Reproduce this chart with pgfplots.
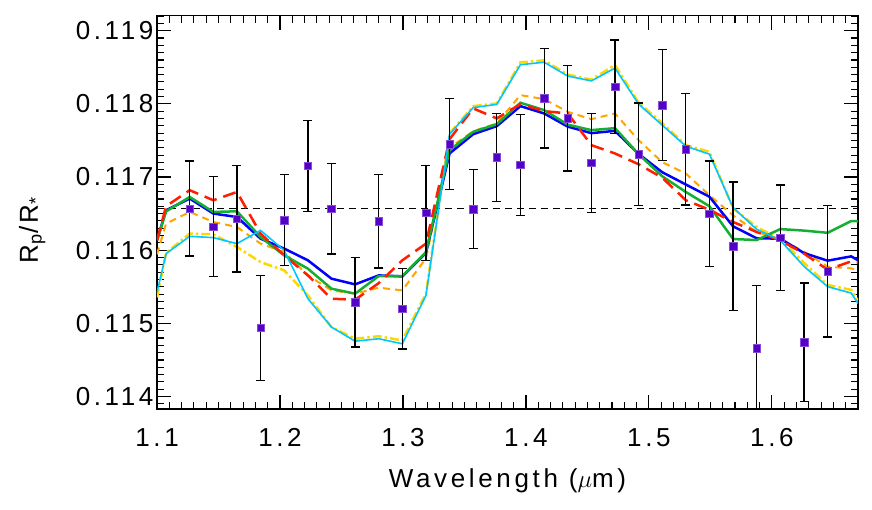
\documentclass[border=0pt]{standalone}
\usepackage{fontspec}
\setmainfont{Liberation Sans}[LetterSpace=14]
\usepackage{pgfplots}
\usepackage{pgfplotstable}
\pgfplotsset{compat=1.18}
\definecolor{mblue}{RGB}{0,0,255}
\definecolor{mgreen}{RGB}{20,175,50}
\definecolor{mred}{RGB}{255,30,0}
\definecolor{morange}{RGB}{255,165,0}
\definecolor{myellow}{RGB}{255,215,0}
\definecolor{mcyan}{RGB}{0,200,255}
\definecolor{mpurple}{RGB}{85,0,200}
\newcommand\lbfont{\fontsize{26bp}{30bp}\selectfont}
\pgfplotstableread{
x blue green red orange yellow cyan
1.1000 0.116135 0.116135 0.116135 0.115944 0.115355 0.115424
1.1074 0.116546 0.116530 0.116601 0.116364 0.115964 0.115953
1.1266 0.116706 0.116728 0.116820 0.116523 0.116227 0.116190
1.1458 0.116501 0.116523 0.116683 0.116386 0.116217 0.116172
1.1650 0.116454 0.116532 0.116796 0.116317 0.116044 0.116090
1.1842 0.116158 0.116180 0.116227 0.116090 0.115838 0.116272
1.2034 0.116022 0.115930 0.115930 0.115975 0.115725 0.115998
1.2227 0.115862 0.115748 0.115656 0.115656 0.115382 0.115337
1.2419 0.115611 0.115474 0.115337 0.115451 0.114949 0.114949
1.2611 0.115533 0.115406 0.115324 0.115406 0.114790 0.114757
1.2803 0.115656 0.115647 0.115550 0.115488 0.114825 0.114790
1.2995 0.115642 0.115647 0.115862 0.115451 0.114767 0.114721
1.3187 0.115964 0.115975 0.116090 0.115889 0.115410 0.115382
1.3379 0.117322 0.117367 0.117518 0.117401 0.117596 0.117586
1.3571 0.117586 0.117618 0.117938 0.117627 0.117969 0.117949
1.3763 0.117696 0.117723 0.117801 0.117733 0.118006 0.117993
1.3955 0.117969 0.118015 0.117997 0.118120 0.118567 0.118535
1.4148 0.117869 0.117915 0.117901 0.118065 0.118595 0.118569
1.4340 0.117689 0.117716 0.117869 0.117891 0.118400 0.118380
1.4532 0.117600 0.117641 0.117436 0.117791 0.118331 0.118314
1.4724 0.117631 0.117668 0.117322 0.117869 0.118531 0.118489
1.4916 0.117316 0.117312 0.117175 0.117504 0.118017 0.117997
1.5108 0.117066 0.117011 0.116991 0.117203 0.117737 0.117709
1.5300 0.116898 0.116796 0.116683 0.117048 0.117436 0.117422
1.5492 0.116731 0.116601 0.116553 0.116751 0.117344 0.117312
1.5684 0.116327 0.116153 0.116386 0.116477 0.116573 0.116583
1.5876 0.116163 0.116139 0.116249 0.116249 0.116317 0.116286
1.6068 0.116158 0.116289 0.116135 0.116152 0.116149 0.116135
1.6261 0.115961 0.116268 0.115953 0.115981 0.115827 0.115779
1.6453 0.115857 0.116238 0.115734 0.115775 0.115526 0.115502
1.6645 0.115916 0.116399 0.115848 0.115752 0.115458 0.115414
1.6700 0.115862 0.116395 0.115834 0.115725 0.115314 0.115273
}\models
\pgfplotstableread{
x y e
1.1266 0.116569 0.00065
1.1458 0.116323 0.00068
1.1650 0.116432 0.00073
1.1842 0.114938 0.00072
1.2034 0.116413 0.00062
1.2227 0.117152 0.00062
1.2419 0.116569 0.00062
1.2611 0.115287 0.00061
1.2803 0.116395 0.00064
1.2995 0.115200 0.00055
1.3187 0.116512 0.00065
1.3379 0.117449 0.00062
1.3571 0.116560 0.00054
1.3763 0.117267 0.00060
1.3955 0.117166 0.00069
1.4148 0.118075 0.00068
1.4340 0.117802 0.00072
1.4532 0.117193 0.00068
1.4724 0.118234 0.00064
1.4916 0.117312 0.00070
1.5108 0.117983 0.00076
1.5300 0.117377 0.00076
1.5492 0.116500 0.00072
1.5684 0.116053 0.00088
1.5876 0.114661 0.00086
1.6068 0.116172 0.00072
1.6261 0.114743 0.00081
1.6453 0.115714 0.00090
}\obs
\begin{document}
\begin{tikzpicture}
\begin{axis}[
  name=ax,
  scale only axis, width=701bp, height=393.3bp,
  xmin=1.1, xmax=1.67, ymin=0.11383, ymax=0.119205,
  xtick={1.1,1.2,1.3,1.4,1.5,1.6},
  minor xtick={1.11,1.12,1.13,1.14,1.15,1.16,1.17,1.18,1.19,1.21,1.22,1.23,1.24,1.25,1.26,1.27,1.28,1.29,1.31,1.32,1.33,1.34,1.35,1.36,1.37,1.38,1.39,1.41,1.42,1.43,1.44,1.45,1.46,1.47,1.48,1.49,1.51,1.52,1.53,1.54,1.55,1.56,1.57,1.58,1.59,1.61,1.62,1.63,1.64,1.65,1.66},
  ytick={0.114,0.115,0.116,0.117,0.118,0.119},
  minor ytick={0.1139,0.1141,0.1142,0.1143,0.1144,0.1145,0.1146,0.1147,0.1148,0.1149,0.1151,0.1152,0.1153,0.1154,0.1155,0.1156,0.1157,0.1158,0.1159,0.1161,0.1162,0.1163,0.1164,0.1165,0.1166,0.1167,0.1168,0.1169,0.1171,0.1172,0.1173,0.1174,0.1175,0.1176,0.1177,0.1178,0.1179,0.1181,0.1182,0.1183,0.1184,0.1185,0.1186,0.1187,0.1188,0.1189,0.1191,0.1192},
  tick align=inside, xtick pos=both, ytick pos=both,
  major tick length=14bp, minor tick length=7bp,
  every tick/.style={black, line width=1.1bp},
  axis line style={line width=1.5bp},
  scaled y ticks=false, scaled x ticks=false,
  /pgf/number format/assume math mode=true,
  yticklabel style={/pgf/number format/.cd, fixed, fixed zerofill, precision=3},
  xticklabel style={yshift=-16bp, /pgf/number format/.cd, fixed, fixed zerofill, precision=1},
  ticklabel style={font=\lbfont},
  label style={font=\lbfont},
  xlabel={Wavelength ($\mu$m)},
  ylabel={R\textsubscript{p}/R\textsubscript{*}},
  xlabel style={at={(axis description cs:0.5,-0.183)}, anchor=center},
  ylabel style={at={(axis description cs:-0.178,0.455)}, anchor=center},
  clip=true,
]
\addplot[black, line width=1.5bp, dash pattern=on 7bp off 5bp] coordinates {(1.1,0.116567) (1.67,0.116567)};
\addplot[myellow, line width=2.5bp, dash pattern=on 9bp off 3bp on 2.5bp off 3bp] table[x=x,y=yellow]{\models};
\addplot[morange, line width=2bp, dash pattern=on 7bp off 5bp] table[x=x,y=orange]{\models};
\addplot[mblue, line width=2.5bp] table[x=x,y=blue]{\models};
\addplot[mgreen, line width=2.5bp] table[x=x,y=green]{\models};
\addplot[mred, line width=2.5bp, dash pattern=on 13bp off 7bp] table[x=x,y=red]{\models};
\addplot[mcyan, line width=1.6bp] table[x=x,y=cyan]{\models};
\addplot[only marks, mark=square*, mark size=3.8bp, mark options={fill=mpurple, draw=mpurple!70!white, line width=0.5bp},
  error bars/.cd, y dir=both, y explicit,
  error bar style={black, line width=1.3bp},
  error mark options={black, rotate=90, mark size=4.5bp, line width=1.3bp}]
  table[x=x,y=y,y error=e]{\obs};
\end{axis}
\pgfresetboundingbox
\path ([shift={(-157bp,-101bp)}]ax.south west) rectangle ([shift={(14bp,15.7bp)}]ax.north east);
\end{tikzpicture}
\end{document}
